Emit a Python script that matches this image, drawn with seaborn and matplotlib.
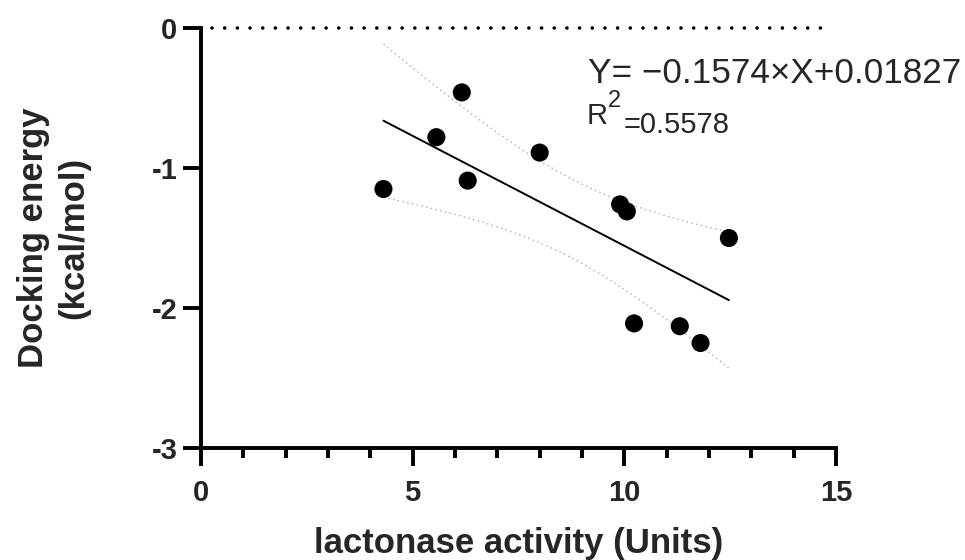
import matplotlib
matplotlib.use("Agg")
import matplotlib.pyplot as plt
import numpy as np
import pandas as pd
import seaborn as sns
from matplotlib.ticker import MultipleLocator

# data
activity = [4.31, 5.56, 6.16, 6.30, 8.00, 9.90, 10.06, 10.23, 11.31, 11.80, 12.47]
energy = [-1.15, -0.78, -0.46, -1.09, -0.89, -1.26, -1.31, -2.11, -2.13, -2.25, -1.50]
eq_text = "Y= \u22120.1574\u00d7X+0.01827"
r2_value = "=0.5578"

df = pd.DataFrame({"activity": activity, "energy": energy})

sns.set_style("ticks")
plt.rcParams["font.family"] = ["Liberation Sans", "DejaVu Sans"]

fig = plt.figure(figsize=(9.65, 5.6), dpi=100)
ax = fig.add_axes([201 / 965, 1 - 448 / 560, 635 / 965, 420 / 560])

# linear fit + 95% confidence band of the mean
x = df["activity"].to_numpy()
y = df["energy"].to_numpy()
n = len(x)
slope, intercept = np.polyfit(x, y, 1)
xs = np.linspace(x.min(), x.max(), 100)
fit = slope * xs + intercept
resid = y - (slope * x + intercept)
s = np.sqrt(np.sum(resid ** 2) / (n - 2))
t_val = 2.262  # t(0.975, df=9)
se = s * np.sqrt(1 / n + (xs - x.mean()) ** 2 / np.sum((x - x.mean()) ** 2))

ax.axhline(0, xmin=0.017, xmax=0.98, color="black", lw=2.6,
           linestyle=(0, (0.01, 3.5)), dash_capstyle="round", clip_on=False)
ax.plot(xs, fit + t_val * se, color="#aaaaaa", lw=1.0, linestyle=(0, (1, 2.5)))
ax.plot(xs, fit - t_val * se, color="#aaaaaa", lw=1.0, linestyle=(0, (1, 2.5)))
ax.plot(xs, fit, color="black", lw=1.4)

sns.scatterplot(data=df, x="activity", y="energy", ax=ax, color="black",
                s=170, edgecolor="none", zorder=5, clip_on=False)

ax.set_xlim(0, 15)
ax.set_ylim(-3, 0)
ax.set_xticks([0, 5, 10, 15])
ax.xaxis.set_minor_locator(MultipleLocator(1))
ax.set_yticks([-3, -2, -1, 0])
ax.set_yticklabels(["-3", "-2", "-1", "0"])

sns.despine(ax=ax)
for sp in ["left", "bottom"]:
    ax.spines[sp].set_linewidth(2.8)
    ax.spines[sp].set_color("black")

ax.tick_params(axis="both", which="major", length=13, width=2.8, color="black",
               labelsize=21, pad=4)
ax.tick_params(axis="x", which="major", pad=9)
ax.tick_params(axis="x", which="minor", length=7, width=2.8, color="black")
for lab in ax.get_xticklabels() + ax.get_yticklabels():
    lab.set_fontweight("bold")

ax.set_xlabel("lactonase activity (Units)", fontsize=25, fontweight="bold", labelpad=15)
ax.set_ylabel("Docking energy\n(kcal/mol)", fontsize=25, fontweight="bold", labelpad=44,
              linespacing=1.3)

# equation annotation
fig.text(588 / 965, 1 - 83 / 560, eq_text, fontsize=25.3, va="baseline", ha="left")
fig.text(587 / 965, 1 - 124 / 560, "R", fontsize=21, va="baseline", ha="left")
fig.text(608 / 965, 1 - 107 / 560, "2", fontsize=17, va="baseline", ha="left")
fig.text(624 / 965, 1 - 133 / 560, r2_value, fontsize=21, va="baseline", ha="left")

fig.savefig("out.png", dpi=100)
